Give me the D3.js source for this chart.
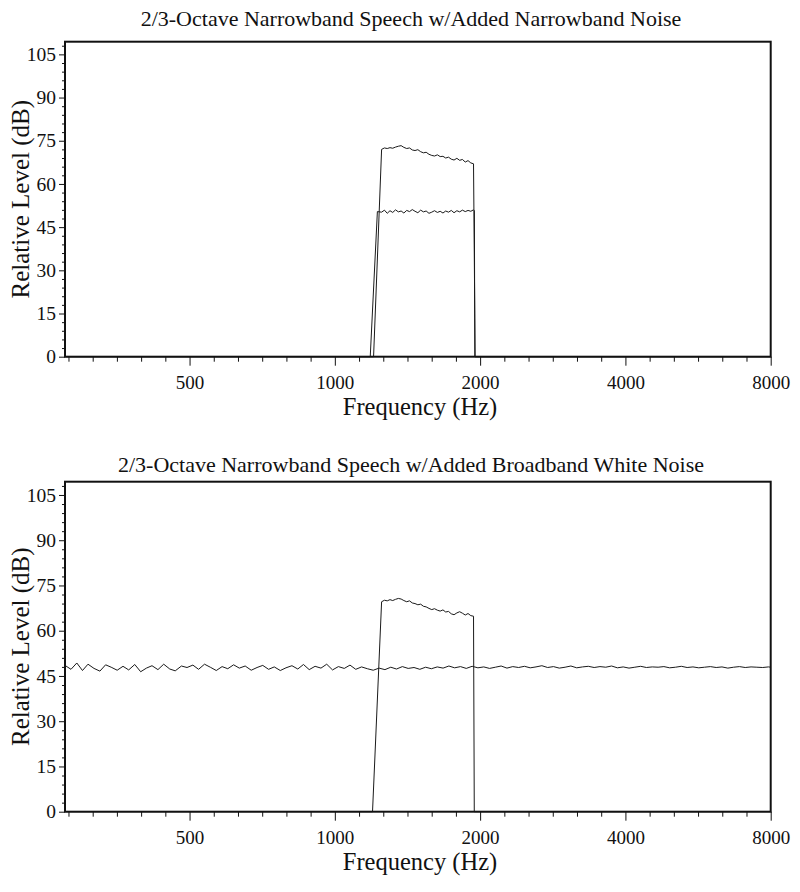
<!DOCTYPE html>
<html><head><meta charset="utf-8">
<script src="https://cdn.jsdelivr.net/npm/d3@7"></script>
<style>
html,body{margin:0;padding:0;background:#fff;}
svg text{font-family:'Liberation Serif','Tinos','Times New Roman','DejaVu Serif','Noto Serif',serif !important;fill:#111;}
</style></head>
<body>
<svg id="chart" width="800" height="892"></svg>
<script>
// ---------- data ----------
const titles = ["2/3-Octave Narrowband Speech w/Added Narrowband Noise",
                "2/3-Octave Narrowband Speech w/Added Broadband White Noise"];
const xTickLabels = [500, 1000, 2000, 4000, 8000];
const yTickLabels = [0, 15, 30, 45, 60, 75, 90, 105];
const xDomain = [276, 8000];
const yDomain = [0, 109.4];

// frequency points inside the passband (Hz)
const bandHz = [1250,1267,1284,1301,1318,1336,1354,1372,1390,1409,1428,1447,1466,1486,1506,1526,1546,1567,1588,1609,
                1631,1653,1675,1697,1720,1743,1766,1790,1814,1838,1863,1888,1913,1938];

// top panel
const topSpeech = [72.0,72.5,72.3,72.6,72.4,72.8,73.1,73.3,72.7,72.3,72.5,71.8,71.6,71.9,71.2,70.8,71.0,70.3,69.9,69.7,
                   70.1,69.5,69.6,69.0,69.3,68.6,68.3,68.9,68.2,68.5,67.6,68.1,67.3,67.0];
const topSpeechRise = [[1203, 0]];
const topSpeechFall = [[1953, 0]];
const topNoise = [50.2,50.9,49.8,50.7,50.1,51.0,50.3,50.6,49.9,50.8,50.4,51.1,50.5,50.0,50.9,50.3,50.6,49.8,50.2,50.7,
                  50.1,50.5,49.9,50.6,50.2,50.8,50.0,50.7,50.3,50.9,50.4,50.8,50.5,51.0];
const topNoiseRise = [[1184, 0], [1225, 50.4]];
const topNoiseFall = [[1946, 50.7], [1950, 0]];

// bottom panel
const bottomSpeech = [69.6,70.1,69.9,70.3,70.0,70.4,70.7,70.5,70.0,69.6,69.9,69.2,69.0,68.6,68.8,68.1,67.9,67.4,67.0,67.3,
                      66.8,66.5,66.9,66.2,66.4,65.6,65.3,65.9,66.3,65.8,65.2,65.7,65.0,64.8];
const bottomSpeechRise = [[1197, 0]];
const bottomSpeechFall = [[1945, 0]];

const whiteHz = [276,284,292,300,308,317,326,335,344,354,
                 364,374,385,396,407,418,430,442,455,467,
                 481,494,508,522,537,552,568,584,600,617,
                 634,652,671,690,709,729,749,771,792,815,
                 838,861,885,910,936,962,989,1017,1046,1075,
                 1105,1136,1168,1201,1235,1270,1306,1342,1380,1419,
                 1459,1500,1542,1585,1630,1676,1723,1771,1821,1872,
                 1925,1979,2035,2092,2151,2211,2273,2337,2403,2471,
                 2540,2611,2685,2760,2838,2918,3000,3084,3171,3260,
                 3351,3446,3543,3642,3745,3850,3958,4069,4184,4302,
                 4422,4547,4675,4806,4941,5080,5223,5370,5521,5676,
                 5835,5999,6168,6341,6520,6703,6891,7085,7284,7489,
                 7700,7916,8000];
const whiteNoise = [48.5,47.2,49.3,46.8,48.9,47.5,46.6,48.7,47.9,46.9,
                    48.2,47.0,48.8,46.4,47.6,48.4,47.1,48.9,47.3,46.7,
                    48.3,47.8,48.6,47.2,48.9,47.9,46.8,48.1,47.4,48.7,
                    47.6,48.3,46.9,47.8,48.5,47.2,48.0,46.8,47.7,48.4,
                    47.3,48.8,47.1,48.2,47.6,48.9,47.0,48.1,47.5,48.6,
                    47.2,48.0,47.4,46.9,47.6,47.1,47.9,47.3,48.1,47.5,
                    47.8,47.2,47.9,47.4,48.0,47.6,48.3,47.7,48.1,47.5,
                    48.2,47.7,48.0,47.5,47.9,48.3,47.6,48.1,47.8,48.2,
                    47.7,48.0,48.4,47.8,48.1,47.6,47.9,48.3,47.7,48.0,
                    48.2,47.8,48.1,47.9,48.3,47.7,48.0,47.6,47.9,48.2,
                    47.8,48.0,47.9,48.1,47.7,47.9,48.2,47.8,48.0,47.7,
                    47.9,48.1,47.8,48.0,47.6,47.9,48.1,47.8,48.0,47.9,
                    47.8,48.0,47.9];

// ---------- helpers ----------
function bandSeries(rise, vals, fall) {
  return [[xDomain[0], 0], ...rise, ...bandHz.map((f, i) => [f, vals[i]]), ...fall, [xDomain[1], 0]];
}

const panels = [
  { title: titles[0], top: 41.7, bottom: 356.7, titleY: 26,
    series: [bandSeries(topNoiseRise, topNoise, topNoiseFall),
             bandSeries(topSpeechRise, topSpeech, topSpeechFall)] },
  { title: titles[1], top: 481.7, bottom: 811.7, titleY: 472,
    series: [whiteHz.map((f, i) => [f, whiteNoise[i]]),
             bandSeries(bottomSpeechRise, bottomSpeech, bottomSpeechFall)] }
];

const FONT = "'Liberation Serif','Tinos','Times New Roman','DejaVu Serif','Noto Serif',serif";
const left = 65, right = 770.7;
const svg = d3.select("#chart");
const x = d3.scaleLog().domain(xDomain).range([left, right]);

// minor x ticks: 1/6-octave steps
const xMinor = [];
for (let k = -6; k <= 24; k++) {
  const f = xTickLabels[0] * Math.pow(2, k / 6);
  if (f >= xDomain[0] && f <= xDomain[1] * 1.0001 && k % 6 !== 0) xMinor.push(f);
}
const yMinor = d3.range(0, 109, 3).filter(v => v % 15 !== 0);

panels.forEach(p => {
  const y = d3.scaleLinear().domain(yDomain).range([p.bottom, p.top]);
  const g = svg.append("g").attr("font-family", FONT);

  g.append("text").attr("x", 411).attr("y", p.titleY).attr("text-anchor", "middle")
    .attr("font-family", FONT).style("font-size", "22px").text(p.title);

  // data lines
  const line = d3.line().x(d => x(d[0])).y(d => y(d[1]));
  p.series.forEach(s => {
    g.append("path").datum(s).attr("d", line)
      .attr("fill", "none").attr("stroke", "#1a1a1a").attr("stroke-width", 1)
      .attr("stroke-linejoin", "round");
  });

  // x axis
  const xAxis = d3.axisBottom(x).tickValues(xTickLabels).tickFormat(d3.format("d"))
    .tickSize(9).tickPadding(10);
  const gx = g.append("g").attr("transform", `translate(0,${p.bottom})`).call(xAxis)
    .attr("font-family", FONT);
  gx.select(".domain").remove();
  gx.selectAll("text").attr("font-family", FONT).style("font-size", "19px");
  gx.selectAll("line").attr("stroke", "#111").attr("stroke-width", 1);
  const gxm = g.append("g").attr("transform", `translate(0,${p.bottom})`)
    .call(d3.axisBottom(x).tickValues(xMinor).tickFormat("").tickSize(5));
  gxm.select(".domain").remove();
  gxm.selectAll("line").attr("stroke", "#111");

  // y axis
  const yAxis = d3.axisLeft(y).tickValues(yTickLabels).tickSize(6).tickPadding(3);
  const gy = g.append("g").attr("transform", `translate(${left},0)`).call(yAxis)
    .attr("font-family", FONT);
  gy.select(".domain").remove();
  gy.selectAll("text").attr("font-family", FONT).style("font-size", "19.5px");
  gy.selectAll("line").attr("stroke", "#111");
  const gym = g.append("g").attr("transform", `translate(${left},0)`)
    .call(d3.axisLeft(y).tickValues(yMinor).tickFormat("").tickSize(3));
  gym.select(".domain").remove();
  gym.selectAll("line").attr("stroke", "#111");

  // frame
  g.append("rect").attr("x", left).attr("y", p.top)
    .attr("width", right - left).attr("height", p.bottom - p.top)
    .attr("fill", "none").attr("stroke", "#111").attr("stroke-width", 2);

  // axis titles
  g.append("text").attr("x", 420).attr("y", p.bottom + 58).attr("text-anchor", "middle")
    .attr("font-family", FONT).style("font-size", "24.5px").text("Frequency (Hz)");
  g.append("text")
    .attr("transform", `translate(29,${(p.top + p.bottom) / 2}) rotate(-90)`)
    .attr("text-anchor", "middle").attr("font-family", FONT)
    .style("font-size", "25px").text("Relative Level (dB)");
});
</script>
</body></html>
